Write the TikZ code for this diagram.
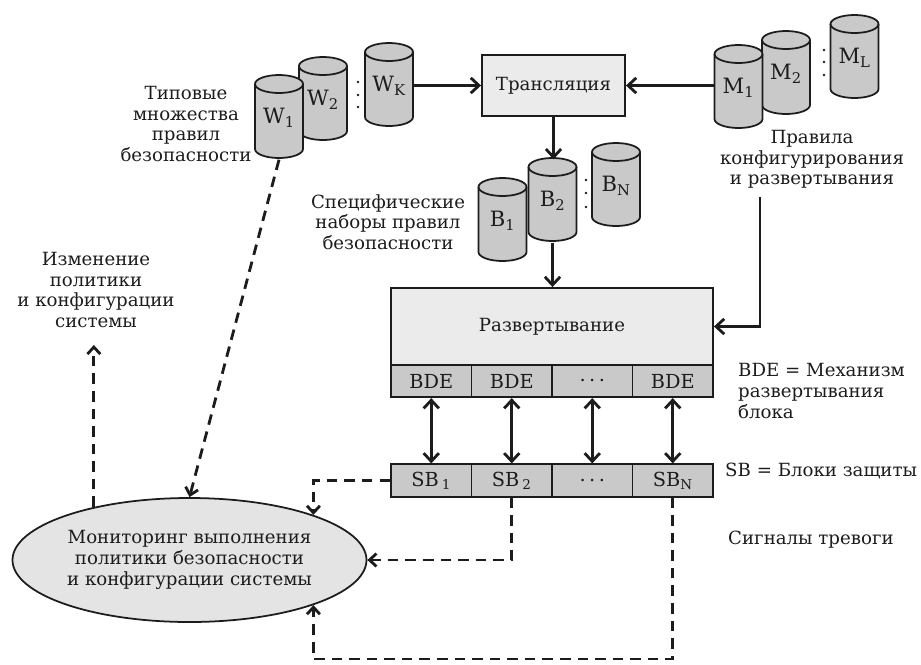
\documentclass[tikz,border=0pt]{standalone}
\usepackage{fontspec}
\setmainfont{DejaVu Serif}
\usetikzlibrary{arrows.meta,shapes.geometric,calc}
\definecolor{boxlight}{HTML}{EBEBEB}
\definecolor{boxmid}{HTML}{C9C9C9}
\definecolor{ellfill}{HTML}{E4E4E4}
\definecolor{ink}{HTML}{1C1C1C}
\tikzset{
  every node/.style={text=ink, font=\fontsize{15.5}{17.6}\selectfont},
  cylbody/.style={draw=ink, line width=1.5pt, fill=boxmid},
  cylnode/.style={inner sep=0pt, minimum width=1.44cm, minimum height=2.49cm, font=\fontsize{18}{20}\selectfont},
  lbl/.style={align=center, inner sep=0pt},
  lbll/.style={align=left, inner sep=0pt, anchor=west},
  mainbox/.style={draw=ink, line width=1.6pt, fill=boxlight, inner sep=0pt},
  cell/.style={draw=ink, line width=1.6pt, fill=boxmid, inner sep=0pt, minimum width=2.415cm, minimum height=0.97cm, font=\fontsize{16.5}{18}\selectfont},
  solidarrow/.style={draw=ink, line width=2.4pt, -{Straight Barb[length=7pt,width=13pt]}},
  dblarrow/.style={draw=ink, line width=2.4pt, {Straight Barb[length=7pt,width=13pt]}-{Straight Barb[length=7pt,width=13pt]}},
  sigline/.style={draw=ink, line width=2.4pt, dash pattern=on 9pt off 6pt, -{Straight Barb[length=6pt,width=11pt]}},
}
\newcommand{\mycyl}[4]{%
  \filldraw[cylbody] ({#2-24},{-(#3+9)}) -- ({#2-24},{-(#3+74)}) arc[start angle=180,end angle=360,x radius=24,y radius=9] -- ({#2+24},{-(#3+9)}) arc[start angle=0,end angle=180,x radius=24,y radius=9] -- cycle;
  \draw[cylbody,fill=none] ({#2+24},{-(#3+9)}) arc[start angle=0,end angle=-180,x radius=24,y radius=9];
  \node[cylnode] (#1) at (#2,{-(#3+43)}) {#4};
}
\begin{document}
\begin{tikzpicture}[x=0.03cm,y=0.03cm]
\path[use as bounding box] (0,0) rectangle (921,-664);

% cylinders
\mycyl{W2}{323}{57}{W\textsubscript{2}}
\mycyl{W1}{279}{75}{W\textsubscript{1}}
\mycyl{WK}{389}{43}{W\textsubscript{K}}
\mycyl{M2}{786}{31}{M\textsubscript{2}}
\mycyl{M1}{738.5}{45}{M\textsubscript{1}}
\mycyl{ML}{854.5}{15}{M\textsubscript{L}}
\mycyl{B1}{502.5}{178}{B\textsubscript{1}}
\mycyl{B2}{552.5}{158}{B\textsubscript{2}}
\mycyl{BN}{616}{143}{B\textsubscript{N}}

\foreach \yy in {82,95,107} \fill[ink] (358,-\yy) circle[radius=1.4];
\foreach \yy in {50,62,75} \fill[ink] (824,-\yy) circle[radius=1.4];
\foreach \yy in {180,193,207} \fill[ink] (586,-\yy) circle[radius=1.4];

% boxes
\node[mainbox, minimum width=4.29cm, minimum height=1.83cm] (trans) at (553.5,-85.5) {Трансляция};
\node[mainbox, minimum width=9.66cm, minimum height=2.31cm] (razv) at (552,-326.5) {Развертывание};
\node[cell] (bde1) at (431.25,-381) {BDE};
\node[cell] (bde2) at (511.75,-381) {BDE};
\node[cell] (bde3) at (592.25,-381) {.\kern3pt.\kern3pt.};
\node[cell] (bde4) at (672.75,-381) {BDE};
\node[cell] (sb1) at (431.25,-480.5) {SB\,\textsubscript{1}};
\node[cell] (sb2) at (511.75,-480.5) {SB\,\textsubscript{2}};
\node[cell] (sb3) at (592.25,-480.5) {.\kern3pt.\kern3pt.};
\node[cell] (sb4) at (672.75,-480.5) {SB\textsubscript{N}};

\node[ellipse, draw=ink, line width=1.5pt, fill=ellfill, minimum width=10.62cm, minimum height=3.72cm, inner sep=0pt, align=center] (mon) at (189.5,-560) {Мониторинг выполнения\\политики безопасности\\и конфигурации системы};

% labels
\node[lbl] (typ) at (186,-124) {Типовые\\множества\\правил\\безопасности};
\node[lbl] (spec) at (388,-222) {Специфические\\наборы правил\\безопасности};
\node[lbl] (prav) at (812,-159.5) {Правила\\конфигурирования\\и развертывания};
\node[lbll] (bdel) at (738,-391) {BDE = Механизм\\развертывания\\блока};
\node[lbll] (sbl) at (725,-471) {SB = Блоки защиты};
\node[lbll] (sig) at (728,-540) {Сигналы тревоги};
\node[lbl] (chg) at (96,-290) {Изменение\\политики\\и конфигурации\\системы};

% solid connectors
\draw[solidarrow] (trans.west -| WK.east) -- (trans.west);
\draw[solidarrow] (trans.east -| M1.west) -- (trans.east);
\draw[solidarrow] (trans.south) -- (trans.south |- B2.north);
\draw[solidarrow] (B2.south) -- (B2.south |- razv.north);
\coordinate (cfgsrc) at (760,-197);
\draw[solidarrow] (cfgsrc) |- (razv.east);
\foreach \i in {1,2,3,4} \draw[dblarrow] (bde\i.south) -- (sb\i.north);

% dashed connectors
\draw[sigline] (W1.south) -- (mon.north);
\coordinate (chgtip) at (95,-345);
\draw[sigline] (mon.151) -- (mon.151 |- chgtip);
\draw[sigline] (sb1.west) -| (mon.20);
\draw[sigline] (sb2.south) |- (mon.east);
\coordinate (botrun) at (0,-659);
\draw[sigline] (sb4.south) -- (sb4.south |- botrun) -| (mon.-20);
\end{tikzpicture}
\end{document}
